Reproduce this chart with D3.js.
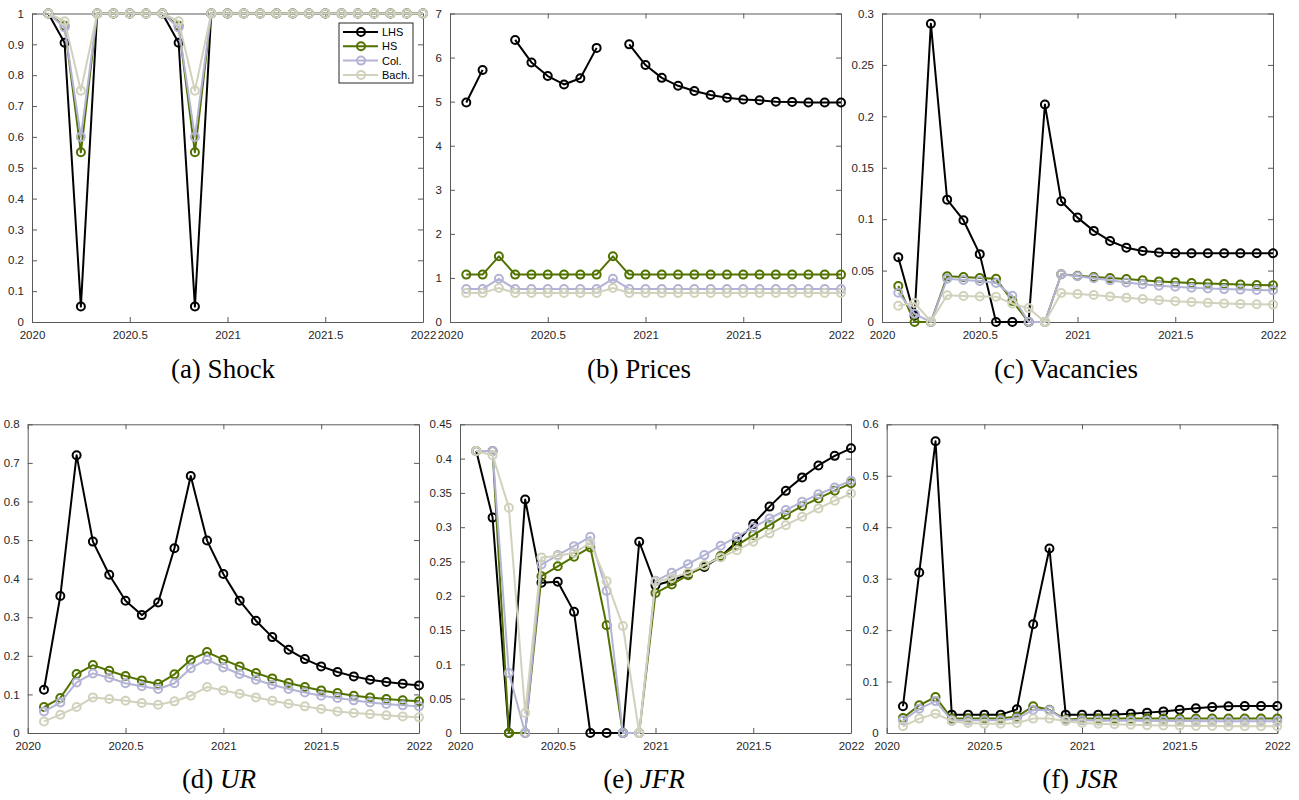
<!DOCTYPE html>
<html lang="en">
<head>
<meta charset="utf-8">
<title>Shock responses by education</title>
<style>
  body { margin: 0; padding: 0; background: #fff; }
  svg { display: block; }
  .tick text { font-family: "Liberation Sans", Arial, sans-serif; font-size: 11.5px; fill: #262626; }
  .caption { font-family: "Liberation Serif", "Times New Roman", serif; font-size: 27px; fill: #000; }
  .legend text { font-family: "Liberation Sans", Arial, sans-serif; font-size: 11px; fill: #000; }
</style>
<script src="https://cdnjs.cloudflare.com/ajax/libs/d3/7.8.5/d3.min.js"></script>
</head>
<body>
<svg id="chart" width="1299" height="800"></svg>
<script>
// monthly dates, Feb 2020 .. Jan 2022 as decimal years
const dates = [2020.0833, 2020.1667, 2020.25, 2020.3333, 2020.4167, 2020.5, 2020.5833, 2020.6667,
  2020.75, 2020.8333, 2020.9167, 2021, 2021.0833, 2021.1667, 2021.25, 2021.3333, 2021.4167, 2021.5,
  2021.5833, 2021.6667, 2021.75, 2021.8333, 2021.9167, 2022];

const groups = ['LHS', 'HS', 'Col.', 'Bach.'];
const groupColors = ['#000000', '#527200', '#b3b3d5', '#d1d1bc'];

const xTicks = [2020, 2020.5, 2021, 2021.5, 2022];

// (a) Shock
const shockLHS  = [1, 0.905, 0.05, 1, 1, 1, 1, 1, 0.905, 0.05, 1, 1, 1, 1, 1, 1, 1, 1, 1, 1, 1, 1, 1, 1];
const shockHS   = [1, 0.96, 0.55, 1, 1, 1, 1, 1, 0.96, 0.55, 1, 1, 1, 1, 1, 1, 1, 1, 1, 1, 1, 1, 1, 1];
const shockCol  = [1, 0.955, 0.6, 1, 1, 1, 1, 1, 0.955, 0.6, 1, 1, 1, 1, 1, 1, 1, 1, 1, 1, 1, 1, 1, 1];
const shockBach = [1, 0.975, 0.75, 1, 1, 1, 1, 1, 0.975, 0.75, 1, 1, 1, 1, 1, 1, 1, 1, 1, 1, 1, 1, 1, 1];
const shockTicks = [0, 0.1, 0.2, 0.3, 0.4, 0.5, 0.6, 0.7, 0.8, 0.9, 1];

// (b) Prices (null = not defined)
const priceLHS  = [4.98, 5.72, null, 6.40, 5.89, 5.58, 5.39, 5.53, 6.22, null, 6.30, 5.83,
  5.54, 5.36, 5.24, 5.15, 5.09, 5.05, 5.03, 5.00, 4.99, 4.98, 4.98, 4.98];
const priceHS   = [1.075, 1.075, 1.49, 1.075, 1.075, 1.075, 1.075, 1.075, 1.075, 1.49, 1.075, 1.075,
  1.075, 1.075, 1.075, 1.075, 1.075, 1.075, 1.075, 1.075, 1.075, 1.075, 1.075, 1.075];
const priceCol  = [0.75, 0.75, 0.98, 0.75, 0.75, 0.75, 0.75, 0.75, 0.75, 0.98, 0.75, 0.75,
  0.75, 0.75, 0.75, 0.75, 0.75, 0.75, 0.75, 0.75, 0.75, 0.75, 0.75, 0.75];
const priceBach = [0.66, 0.66, 0.77, 0.66, 0.66, 0.66, 0.66, 0.66, 0.66, 0.77, 0.66, 0.66,
  0.66, 0.66, 0.66, 0.66, 0.66, 0.66, 0.66, 0.66, 0.66, 0.66, 0.66, 0.66];
const priceTicks = [0, 1, 2, 3, 4, 5, 6, 7];

// (c) Vacancies
const vacLHS  = [0.063, 0.006, 0.290, 0.119, 0.099, 0.066, 0, 0, 0, 0.2115, 0.1174, 0.1015,
  0.0886, 0.0788, 0.0723, 0.069, 0.0675, 0.0668, 0.0668, 0.0668, 0.0668, 0.0668, 0.0668, 0.0668];
const vacHS   = [0.035, 0, 0, 0.0444, 0.0438, 0.0428, 0.042, 0.0205, 0, 0, 0.0464, 0.045,
  0.0438, 0.0427, 0.0417, 0.0405, 0.0395, 0.0387, 0.038, 0.0374, 0.0369, 0.0364, 0.036, 0.0357];
const vacCol  = [0.0285, 0.008, 0, 0.042, 0.0408, 0.0398, 0.038, 0.0256, 0, 0, 0.0464, 0.0445,
  0.0425, 0.0405, 0.0385, 0.0368, 0.0352, 0.0342, 0.0333, 0.0326, 0.032, 0.0315, 0.0311, 0.0308];
const vacBach = [0.0158, 0.0185, 0.0006, 0.026, 0.0253, 0.0248, 0.0246, 0.0178, 0.0135, 0, 0.0282, 0.0272,
  0.0262, 0.0249, 0.0236, 0.0224, 0.0212, 0.0202, 0.0194, 0.0187, 0.0181, 0.0176, 0.0172, 0.0169];
const vacTicks = [0, 0.05, 0.1, 0.15, 0.2, 0.25, 0.3];

// (d) UR
const urLHS  = [0.112, 0.355, 0.720, 0.496, 0.410, 0.3425, 0.3055, 0.338, 0.479, 0.666, 0.4987, 0.412,
  0.343, 0.291, 0.2485, 0.2157, 0.1915, 0.1726, 0.158, 0.1467, 0.138, 0.132, 0.1277, 0.1234];
const urHS   = [0.0673, 0.0906, 0.1527, 0.176, 0.1614, 0.1475, 0.1363, 0.1268, 0.152, 0.19, 0.2097, 0.19,
  0.1726, 0.1553, 0.1415, 0.1294, 0.119, 0.1104, 0.1035, 0.0966, 0.0923, 0.088, 0.0846, 0.082];
const urCol  = [0.056, 0.079, 0.131, 0.1545, 0.143, 0.129, 0.121, 0.114, 0.129, 0.168, 0.19, 0.17,
  0.153, 0.138, 0.125, 0.114, 0.105, 0.0966, 0.0906, 0.0846, 0.079, 0.075, 0.0716, 0.069];
const urBach = [0.030, 0.0475, 0.0673, 0.0923, 0.088, 0.0837, 0.0777, 0.0733, 0.082, 0.0966, 0.119, 0.1104,
  0.1018, 0.0923, 0.0837, 0.076, 0.069, 0.062, 0.056, 0.052, 0.049, 0.0457, 0.043, 0.0405];
const urTicks = [0, 0.1, 0.2, 0.3, 0.4, 0.5, 0.6, 0.7, 0.8];

// (e) JFR
const jfrLHS  = [0.411, 0.314, 0, 0.3405, 0.219, 0.2204, 0.1766, 0, 0, 0, 0.2788, 0.2155,
  0.222, 0.232, 0.242, 0.257, 0.279, 0.3045, 0.330, 0.353, 0.3726, 0.390, 0.404, 0.415];
const jfrHS   = [0.411, 0.411, 0, 0, 0.2286, 0.243, 0.257, 0.2705, 0.157, 0, 0, 0.204,
  0.2165, 0.230, 0.2437, 0.258, 0.2734, 0.2885, 0.303, 0.3177, 0.3308, 0.342, 0.3533, 0.364];
const jfrCol  = [0.411, 0.411, 0.0875, 0, 0.2456, 0.2593, 0.2724, 0.286, 0.2072, 0, 0, 0.2218,
  0.2335, 0.246, 0.2593, 0.273, 0.286, 0.2996, 0.3127, 0.325, 0.337, 0.348, 0.358, 0.3677];
const jfrBach = [0.411, 0.405, 0.3283, 0.0292, 0.256, 0.258, 0.2626, 0.277, 0.2213, 0.156, 0, 0.2204,
  0.226, 0.2335, 0.2447, 0.256, 0.2665, 0.2788, 0.291, 0.303, 0.3152, 0.3274, 0.3386, 0.349];
const jfrTicks = [0, 0.05, 0.1, 0.15, 0.2, 0.25, 0.3, 0.35, 0.4, 0.45];

// (f) JSR
const jsrLHS  = [0.052, 0.312, 0.567, 0.0357, 0.0357, 0.0357, 0.0357, 0.046, 0.2114, 0.3586, 0.0357, 0.0357,
  0.0357, 0.036, 0.0376, 0.0396, 0.042, 0.0454, 0.048, 0.0506, 0.052, 0.0525, 0.0525, 0.0525];
const jsrHS   = [0.029, 0.0538, 0.070, 0.028, 0.028, 0.028, 0.028, 0.032, 0.052, 0.045, 0.026, 0.028,
  0.028, 0.028, 0.028, 0.028, 0.028, 0.028, 0.028, 0.028, 0.028, 0.028, 0.028, 0.028];
const jsrCol  = [0.0246, 0.047, 0.062, 0.0246, 0.0246, 0.0246, 0.0246, 0.028, 0.045, 0.044, 0.0246, 0.0246,
  0.024, 0.024, 0.024, 0.024, 0.0235, 0.0235, 0.0235, 0.023, 0.023, 0.023, 0.023, 0.023];
const jsrBach = [0.013, 0.028, 0.0376, 0.023, 0.0195, 0.018, 0.018, 0.0195, 0.028, 0.028, 0.023, 0.0195,
  0.018, 0.017, 0.016, 0.015, 0.0145, 0.014, 0.0138, 0.0135, 0.0133, 0.0131, 0.013, 0.013];
const jsrTicks = [0, 0.1, 0.2, 0.3, 0.4, 0.5, 0.6];

const panels = [
  { label: '(a) ', name: 'Shock', italic: false, series: [shockLHS, shockHS, shockCol, shockBach], ticks: shockTicks,
    box: [32, 13.5, 423, 322], cx: 223, cy: 378, legend: true },
  { label: '(b) ', name: 'Prices', italic: false, series: [priceLHS, priceHS, priceCol, priceBach], ticks: priceTicks,
    box: [450, 13.5, 841, 322], cx: 639, cy: 378 },
  { label: '(c) ', name: 'Vacancies', italic: false, series: [vacLHS, vacHS, vacCol, vacBach], ticks: vacTicks,
    box: [882, 13.5, 1273, 322], cx: 1066, cy: 378 },
  { label: '(d) ', name: 'UR', italic: true, series: [urLHS, urHS, urCol, urBach], ticks: urTicks,
    box: [27.7, 424.3, 419, 733], cx: 219, cy: 788 },
  { label: '(e) ', name: 'JFR', italic: true, series: [jfrLHS, jfrHS, jfrCol, jfrBach], ticks: jfrTicks,
    box: [460, 424.3, 851, 733], cx: 644, cy: 788 },
  { label: '(f) ', name: 'JSR', italic: true, series: [jsrLHS, jsrHS, jsrCol, jsrBach], ticks: jsrTicks,
    box: [886.7, 424.3, 1277.3, 733], cx: 1080, cy: 788 }
];

const svg = d3.select('#chart');
svg.append('rect').attr('width', 1299).attr('height', 800).attr('fill', '#fff');

const fmt = d => String(Math.round(d * 100) / 100);
const axisColor = '#5a5a5a';

panels.forEach(function(p) {
  const [x0, y0, x1, y1] = p.box;
  const x = d3.scaleLinear().domain([2020, 2022]).range([x0, x1]);
  const y = d3.scaleLinear().domain([0, d3.max(p.ticks)]).range([y1, y0]);
  const g = svg.append('g');

  // box with inward ticks on all sides
  const axes = [
    d3.axisBottom(x).tickValues(xTicks).tickFormat(fmt).tickSizeInner(-5).tickSizeOuter(0).tickPadding(9),
    d3.axisLeft(y).tickValues(p.ticks).tickFormat(fmt).tickSizeInner(-5).tickSizeOuter(0).tickPadding(8),
    d3.axisTop(x).tickValues(xTicks).tickFormat('').tickSizeInner(-5).tickSizeOuter(0),
    d3.axisRight(y).tickValues(p.ticks).tickFormat('').tickSizeInner(-5).tickSizeOuter(0)
  ];
  const shifts = [[0, y1], [x0, 0], [0, y0], [x1, 0]];
  axes.forEach(function(ax, i) {
    const a = g.append('g').attr('transform', `translate(${shifts[i][0]},${shifts[i][1]})`).call(ax);
    a.select('.domain').attr('stroke', axisColor).attr('stroke-width', 1);
    a.selectAll('.tick line').attr('stroke', axisColor).attr('stroke-width', 1);
  });

  const line = d3.line()
    .defined(d => d[1] !== null)
    .x(d => x(d[0]))
    .y(d => y(d[1]));

  p.series.forEach(function(vals, i) {
    const pts = dates.map((d, j) => [d, vals[j]]);
    g.append('path')
      .datum(pts)
      .attr('fill', 'none')
      .attr('stroke', groupColors[i])
      .attr('stroke-width', 2)
      .attr('stroke-linejoin', 'round')
      .attr('d', line);
    g.selectAll(null)
      .data(pts.filter(d => d[1] !== null))
      .enter()
      .append('circle')
      .attr('cx', d => x(d[0]))
      .attr('cy', d => y(d[1]))
      .attr('r', 4)
      .attr('fill', 'none')
      .attr('stroke', groupColors[i])
      .attr('stroke-width', 2);
  });

  if (p.legend) {
    const lg = g.append('g').attr('class', 'legend');
    const lx = x1 - 84, ly = y0 + 9.5;
    lg.append('rect')
      .attr('x', lx).attr('y', ly).attr('width', 74).attr('height', 60)
      .attr('fill', '#fff').attr('stroke', '#262626').attr('stroke-width', 1);
    groups.forEach(function(name, i) {
      const yy = ly + 9 + i * 14.3;
      lg.append('line')
        .attr('x1', lx + 4).attr('x2', lx + 39).attr('y1', yy).attr('y2', yy)
        .attr('stroke', groupColors[i]).attr('stroke-width', 2);
      lg.append('circle')
        .attr('cx', lx + 22).attr('cy', yy).attr('r', 4)
        .attr('fill', 'none').attr('stroke', groupColors[i]).attr('stroke-width', 2);
      lg.append('text')
        .attr('x', lx + 43).attr('y', yy + 4)
        .text(name);
    });
  }

  const cap = svg.append('text')
    .attr('class', 'caption')
    .attr('x', p.cx).attr('y', p.cy)
    .attr('text-anchor', 'middle');
  cap.append('tspan').text(p.label);
  cap.append('tspan').attr('font-style', p.italic ? 'italic' : 'normal').text(p.name);
});
</script>
</body>
</html>
